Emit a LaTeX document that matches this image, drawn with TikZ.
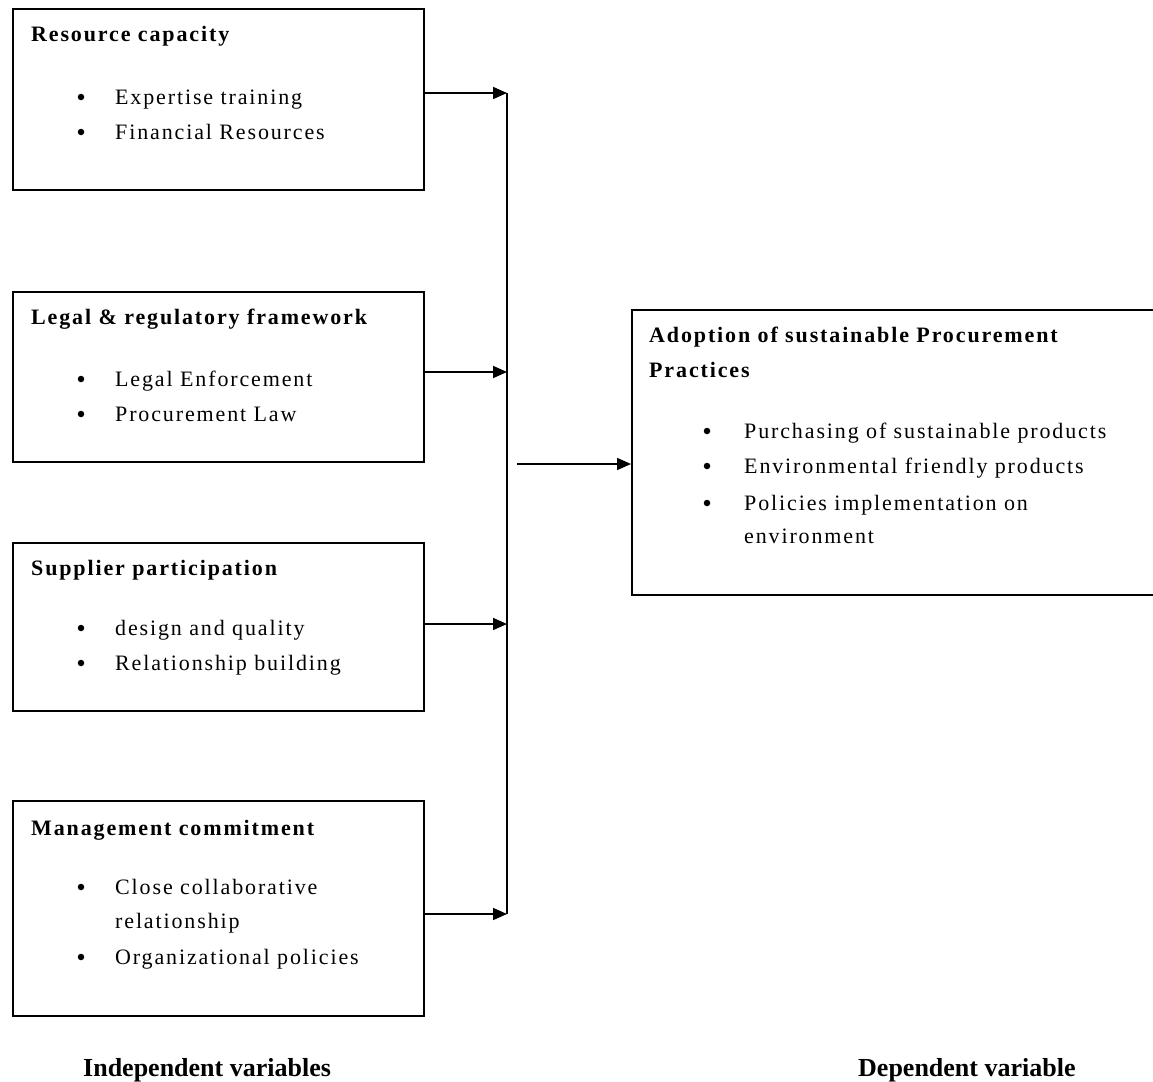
\documentclass[tikz,border=0pt]{standalone}
\usepackage{fontspec}
\setmainfont{Liberation Serif}
\newfontfamily\wideserif[LetterSpace=8.5]{Liberation Serif}
\usetikzlibrary{arrows.meta}
\begin{document}
\begin{tikzpicture}[x=1pt,y=-1pt,
  box/.style={draw,line width=1.6pt,anchor=north west,inner sep=0pt},
  ttl/.style={anchor=base west,font=\wideserif\fontsize{22}{24}\selectfont\bfseries,inner sep=0pt},
  itm/.style={anchor=base west,font=\wideserif\fontsize{22}{24}\selectfont,inner sep=0pt},
  bul/.style={circle,fill,inner sep=0pt,minimum size=6.5pt},
  lbl/.style={anchor=base west,font=\fontsize{26}{30}\selectfont\bfseries,inner sep=0pt},
  conn/.style={line width=1.7pt},
  arr/.style={line width=1.7pt,-{Triangle[length=14pt,width=12pt]}}]
\useasboundingbox (0,0) rectangle (1153,1081);
% boxes
\node[box,minimum width=411pt,minimum height=181pt] (b1) at (12,8) {};
\node[box,minimum width=411pt,minimum height=170pt] (b2) at (12,291) {};
\node[box,minimum width=411pt,minimum height=168pt] (b3) at (12,542) {};
\node[box,minimum width=411pt,minimum height=215pt] (b4) at (12,800) {};
\node[box,minimum width=530pt,minimum height=285pt] (r) at (631,309) {};
% box 1
\node[ttl] (t1) at (31,42) {Resource capacity};
\node[bul] (d11) at (81,97) {};
\node[itm] (i11) at (115,104) {Expertise training};
\node[bul] (d12) at (81,132) {};
\node[itm] (i12) at (115,139) {Financial Resources};
% box 2
\node[ttl] (t2) at (31,324) {Legal \& regulatory framework};
\node[bul] (d21) at (81,379) {};
\node[itm] (i21) at (115,386) {Legal Enforcement};
\node[bul] (d22) at (81,414) {};
\node[itm] (i22) at (115,421) {Procurement Law};
% box 3
\node[ttl] (t3) at (31,575) {Supplier participation};
\node[bul] (d31) at (81,628) {};
\node[itm] (i31) at (115,635) {design and quality};
\node[bul] (d32) at (81,663) {};
\node[itm] (i32) at (115,670) {Relationship building};
% box 4
\node[ttl] (t4) at (31,835) {Management commitment};
\node[bul] (d41) at (81,887) {};
\node[itm] (i41) at (115,894) {Close collaborative};
\node[itm] (i41b) at (115,928) {relationship};
\node[bul] (d42) at (81,957) {};
\node[itm] (i42) at (115,964) {Organizational policies};
% right box
\node[ttl] (tr) at (649,342) {Adoption of sustainable Procurement};
\node[ttl] (tr2) at (649,377) {Practices};
\node[bul] (dr1) at (707,431) {};
\node[itm] (ir1) at (744,438) {Purchasing of sustainable products};
\node[bul] (dr2) at (707,466) {};
\node[itm] (ir2) at (744,473) {Environmental friendly products};
\node[bul] (dr3) at (707,503) {};
\node[itm] (ir3) at (744,510) {Policies implementation on};
\node[itm] (ir3b) at (744,543) {environment};
% bottom labels
\node[lbl] (li) at (83,1076) {Independent variables};
\node[lbl] (ld) at (858,1076) {Dependent variable};
% bus
\coordinate (p1) at (507,93);
\coordinate (p2) at (507,372);
\coordinate (p3) at (507,624);
\coordinate (p4) at (507,914);
\coordinate (m0) at (517,464);
\draw[conn] (p1) -- (p4);
\draw[arr] (b1.east |- p1) -- (p1);
\draw[arr] (b2.east |- p2) -- (p2);
\draw[arr] (b3.east |- p3) -- (p3);
\draw[arr] (b4.east |- p4) -- (p4);
\draw[arr] (m0) -- (r.west |- m0);
\end{tikzpicture}
\end{document}
